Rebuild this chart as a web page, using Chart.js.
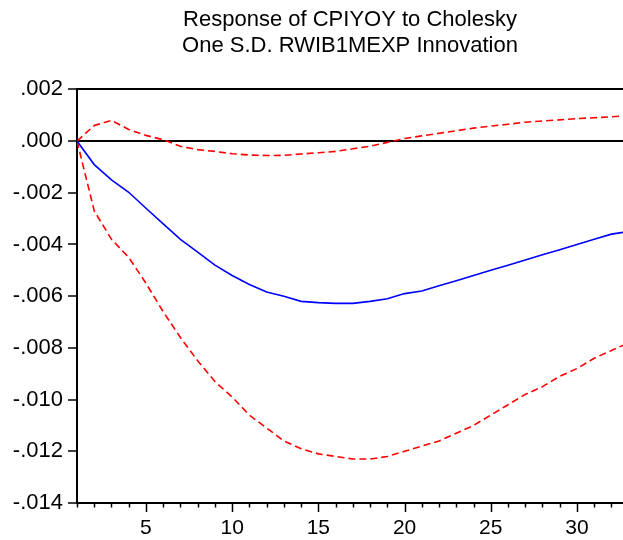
<!DOCTYPE html>
<html>
<head>
<meta charset="utf-8">
<script src="https://cdn.jsdelivr.net/npm/chart.js@4.4.1/dist/chart.umd.min.js"></script>
<style>
  html, body { margin: 0; padding: 0; background: #ffffff; }
  #wrap { width: 623px; height: 540px; }
</style>
</head>
<body>
<div id="wrap"><canvas id="c" width="623" height="540"></canvas></div>
<script>
const titleLines = ["Response of CPIYOY to Cholesky", "One S.D. RWIB1MEXP Innovation"];
const periods = [1,2,3,4,5,6,7,8,9,10,11,12,13,14,15,16,17,18,19,20,21,22,23,24,25,26,27,28,29,30,31,32,33];
const response = [0,-0.00091,-0.0015,-0.00198,-0.0026,-0.0032,-0.0038,-0.0043,-0.0048,-0.0052,-0.00555,-0.00584,-0.0060,-0.0062,-0.00625,-0.00628,-0.00628,-0.0062,-0.0061,-0.0059,-0.0058,-0.0056,-0.0054,-0.0052,-0.0050,-0.0048,-0.0046,-0.0044,-0.0042,-0.0040,-0.0038,-0.0036,-0.0035];
const upperBand = [0,0.0006,0.0008,0.00045,0.00022,0.00005,-0.0002,-0.00033,-0.0004,-0.00049,-0.00054,-0.00056,-0.00055,-0.0005,-0.00045,-0.0004,-0.0003,-0.0002,-0.00005,0.0001,0.0002,0.0003,0.0004,0.0005,0.00058,0.00065,0.00073,0.00078,0.00082,0.00087,0.0009,0.00094,0.00098];
const lowerBand = [0,-0.0027,-0.0038,-0.0045,-0.0055,-0.0066,-0.0076,-0.0085,-0.0093,-0.0099,-0.0106,-0.0111,-0.0116,-0.0119,-0.0121,-0.0122,-0.0123,-0.0123,-0.0122,-0.0120,-0.0118,-0.0116,-0.0113,-0.0110,-0.0106,-0.0102,-0.0098,-0.0095,-0.0091,-0.0088,-0.0084,-0.0081,-0.0078];
const yTicks = [0.002,0.000,-0.002,-0.004,-0.006,-0.008,-0.010,-0.012,-0.014];
const xLabelEvery = 5;

const FONT = '"Liberation Sans", Arial, sans-serif';
Chart.defaults.font.family = FONT;
Chart.defaults.color = '#000';

function pts(arr) { return periods.map((p, i) => ({ x: p, y: arr[i] })); }
function fmtY(v) {
  const r = Math.round(v * 1000) / 1000;
  let s = Math.abs(r).toFixed(3).replace(/^0/, '');
  return (r < 0 ? '-' : '') + s;
}

const xTickMarks = {
  id: 'xTickMarks',
  afterDraw(chart) {
    const sx = chart.scales.x;
    const ctx = chart.ctx;
    const y0 = chart.chartArea.bottom;
    ctx.save();
    ctx.strokeStyle = '#000';
    ctx.lineWidth = 1.5;
    sx.ticks.forEach(t => {
      const px = Math.round(sx.getPixelForValue(t.value)) + 0.5;
      const len = (t.value % xLabelEvery === 0) ? 9 : 4.5;
      ctx.beginPath();
      ctx.moveTo(px, y0);
      ctx.lineTo(px, y0 + len);
      ctx.stroke();
    });
    ctx.restore();
  }
};

new Chart(document.getElementById('c'), {
  type: 'line',
  data: {
    datasets: [
      { label: 'Response', data: pts(response), borderColor: '#0000ff', borderWidth: 1.6, pointRadius: 0, tension: 0, fill: false },
      { label: 'Upper', data: pts(upperBand), borderColor: '#ff0000', borderWidth: 1.6, borderDash: [7, 4], pointRadius: 0, tension: 0, fill: false },
      { label: 'Lower', data: pts(lowerBand), borderColor: '#ff0000', borderWidth: 1.6, borderDash: [7, 4], pointRadius: 0, tension: 0, fill: false }
    ]
  },
  options: {
    responsive: false,
    animation: false,
    layout: { padding: { left: 0, right: 0, top: 0, bottom: 0 } },
    plugins: {
      legend: { display: false },
      tooltip: { enabled: false },
      title: {
        display: true,
        fullSize: false,
        text: titleLines,
        color: '#000',
        font: { size: 22, weight: 'normal', family: FONT, lineHeight: 1.19 },
        padding: { top: 7, bottom: 30 }
      }
    },
    scales: {
      x: {
        type: 'linear',
        min: 1,
        max: 32.67,
        afterFit(scale) { scale.height = 37; },
        afterBuildTicks(scale) {
          scale.ticks = periods.filter(p => p <= scale.max).map(p => ({ value: p }));
        },
        ticks: {
          autoSkip: false,
          maxRotation: 0,
          padding: 4,
          font: { size: 21 },
          color: '#000',
          callback: (v) => (v % xLabelEvery === 0 ? String(v) : '')
        },
        grid: { display: true, drawOnChartArea: false, drawTicks: true, tickLength: 9, tickColor: 'rgba(0,0,0,0)' },
        border: { display: true, color: '#000', width: 2 }
      },
      y: {
        type: 'linear',
        min: -0.014,
        max: 0.002,
        afterFit(scale) { scale.width = 77; },
        afterBuildTicks(scale) {
          scale.ticks = yTicks.map(v => ({ value: v }));
        },
        ticks: {
          padding: 5,
          font: { size: 22 },
          color: '#000',
          callback: (v) => fmtY(v)
        },
        grid: {
          drawOnChartArea: true,
          drawTicks: true,
          tickLength: 9,
          tickColor: '#000',
          tickWidth: 1.5,
          lineWidth: 2,
          color: (ctx) => (ctx.tick && (Math.abs(ctx.tick.value) < 1e-9 || Math.abs(ctx.tick.value - 0.002) < 1e-9)) ? '#000' : 'rgba(0,0,0,0)'
        },
        border: { display: true, color: '#000', width: 2 }
      }
    }
  },
  plugins: [xTickMarks]
});
</script>
</body>
</html>
